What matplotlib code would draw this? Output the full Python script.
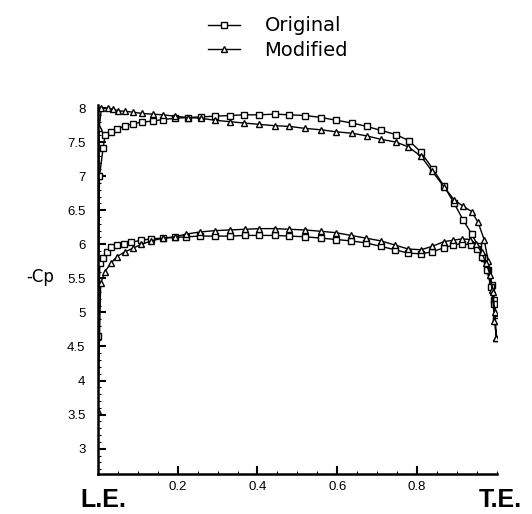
import matplotlib
matplotlib.use("Agg")
import matplotlib.pyplot as plt
from matplotlib.ticker import MultipleLocator

# pressure distribution, upper and lower surface, x/c from L.E. to T.E.
orig_upper_x = [0.004, 0.013, 0.018, 0.034, 0.048, 0.068, 0.088, 0.11, 0.137, 0.163, 0.193, 0.225, 0.258,
                0.293, 0.33, 0.365, 0.405, 0.443, 0.48, 0.52, 0.56, 0.598, 0.637, 0.674, 0.71, 0.747, 0.78,
                0.81, 0.84, 0.868, 0.893, 0.915, 0.937, 0.953, 0.968, 0.978, 0.988, 0.994, 0.998]
orig_upper_cp = [7.0, 7.41, 7.60, 7.65, 7.69, 7.74, 7.77, 7.79, 7.81, 7.83, 7.85, 7.86, 7.87,
                 7.88, 7.89, 7.90, 7.90, 7.91, 7.90, 7.89, 7.86, 7.82, 7.78, 7.73, 7.67, 7.61, 7.52,
                 7.35, 7.10, 6.85, 6.60, 6.36, 6.15, 5.97, 5.80, 5.62, 5.40, 5.18, 4.90]
orig_lower_x = [0.0, 0.005, 0.012, 0.022, 0.034, 0.048, 0.065, 0.084, 0.109, 0.134, 0.163, 0.193, 0.222,
                0.255, 0.293, 0.33, 0.368, 0.405, 0.443, 0.48, 0.52, 0.56, 0.597, 0.634, 0.672, 0.709,
                0.744, 0.778, 0.81, 0.838, 0.868, 0.891, 0.913, 0.935, 0.95, 0.963, 0.975, 0.985, 0.992, 0.997]
orig_lower_cp = [4.65, 5.72, 5.80, 5.88, 5.96, 5.99, 6.01, 6.03, 6.06, 6.08, 6.09, 6.10, 6.11,
                 6.12, 6.12, 6.12, 6.13, 6.13, 6.13, 6.12, 6.11, 6.09, 6.07, 6.05, 6.02, 5.97,
                 5.92, 5.87, 5.86, 5.89, 5.95, 5.99, 6.01, 5.99, 5.93, 5.82, 5.62, 5.38, 5.12, 4.88]

mod_upper_x = [0.003, 0.009, 0.025, 0.038, 0.05, 0.068, 0.088, 0.11, 0.137, 0.163, 0.193, 0.225, 0.258,
               0.293, 0.33, 0.365, 0.405, 0.443, 0.48, 0.52, 0.56, 0.598, 0.637, 0.674, 0.71, 0.747,
               0.778, 0.81, 0.838, 0.868, 0.893, 0.915, 0.937, 0.953, 0.968, 0.978, 0.988, 0.994, 0.999]
mod_upper_cp = [7.70, 8.00, 8.00, 7.98, 7.96, 7.95, 7.94, 7.92, 7.91, 7.90, 7.88, 7.86, 7.85,
                7.82, 7.80, 7.78, 7.76, 7.74, 7.73, 7.70, 7.68, 7.65, 7.63, 7.59, 7.54, 7.50,
                7.43, 7.29, 7.07, 6.84, 6.65, 6.56, 6.48, 6.32, 6.07, 5.76, 5.33, 4.87, 4.62]
mod_lower_x = [0.0, 0.007, 0.018, 0.032, 0.048, 0.068, 0.087, 0.109, 0.134, 0.163, 0.193, 0.222, 0.255,
               0.293, 0.33, 0.368, 0.405, 0.443, 0.48, 0.52, 0.56, 0.597, 0.634, 0.672, 0.709, 0.744,
               0.778, 0.81, 0.838, 0.868, 0.891, 0.913, 0.933, 0.948, 0.962, 0.973, 0.983, 0.99, 0.995, 0.999]
mod_lower_cp = [3.55, 5.43, 5.60, 5.72, 5.82, 5.89, 5.94, 6.00, 6.05, 6.09, 6.11, 6.15, 6.18,
                6.20, 6.21, 6.22, 6.23, 6.23, 6.22, 6.21, 6.19, 6.17, 6.13, 6.09, 6.05, 5.99,
                5.93, 5.92, 5.97, 6.04, 6.06, 6.08, 6.07, 6.00, 5.88, 5.72, 5.55, 5.30, 5.00, 4.62]

x_ticks = [0.2, 0.4, 0.6, 0.8]
y_ticks = [3, 3.5, 4, 4.5, 5, 5.5, 6, 6.5, 7, 7.5, 8]

plt.rcParams["font.family"] = ["Liberation Sans", "DejaVu Sans"]

fig = plt.figure(figsize=(5.32, 5.14), dpi=100)
ax = fig.add_axes([0.184, 0.078, 0.750, 0.7185])

# one path per airfoil: upper surface T.E. -> L.E., then lower surface L.E. -> T.E.
ax.plot(orig_upper_x[::-1] + orig_lower_x, orig_upper_cp[::-1] + orig_lower_cp,
        color="black", lw=1.0, marker="s", ms=4, mfc="white", mec="black", mew=1.0, label="Original")
ax.plot(mod_upper_x[::-1] + mod_lower_x, mod_upper_cp[::-1] + mod_lower_cp,
        color="black", lw=1.0, marker="^", ms=4.5, mfc="white", mec="black", mew=1.0, label="Modified")

ax.set_xlim(0, 1)
ax.set_ylim(2.63, 8.05)
ax.set_xticks(x_ticks)
ax.set_xticklabels([str(t) for t in x_ticks])
ax.set_yticks(y_ticks)
ax.set_yticklabels(["%g" % t for t in y_ticks])
ax.xaxis.set_minor_locator(MultipleLocator(0.05))
ax.yaxis.set_minor_locator(MultipleLocator(0.1))

for side in ["top", "right"]:
    ax.spines[side].set_visible(False)
for side in ["left", "bottom"]:
    ax.spines[side].set_linewidth(1.8)

ax.tick_params(which="major", direction="in", length=6, width=1.5, labelsize=9.5)
ax.tick_params(axis="y", which="major", pad=9)
ax.tick_params(axis="x", which="major", pad=5)
ax.tick_params(which="minor", direction="in", length=2, width=0.8)

ax.text(0.0125, -0.07, "L.E.", transform=ax.transAxes, ha="center", va="center",
        fontsize=18, fontweight="bold")
ax.text(1.0075, -0.07, "T.E.", transform=ax.transAxes, ha="center", va="center",
        fontsize=18, fontweight="bold")
fig.text(40 / 532, 1 - 277 / 514, "-Cp", ha="center", va="center", fontsize=12, family="DejaVu Sans")

ax.legend(loc="upper left", bbox_to_anchor=(0.391, 0.968), bbox_transform=fig.transFigure,
          frameon=False, numpoints=1, handlelength=1.65, handletextpad=1.25, labelspacing=0.3,
          borderpad=0, borderaxespad=0, prop={"family": "DejaVu Sans", "size": 14})

fig.savefig("out.png", dpi=100)
